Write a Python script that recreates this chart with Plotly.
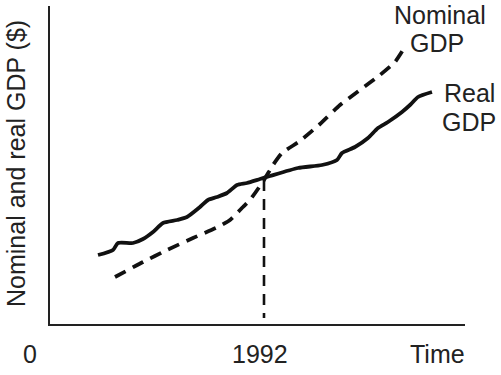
import plotly.graph_objects as go

# Real GDP (solid)
real_years = [1975.4, 1976.9, 1977.4, 1978.9, 1979.9, 1980.9, 1981.9, 1983.3, 1984.3, 1985.6,
              1986.4, 1987.3, 1988.3, 1989.3, 1990.3, 1991.6, 1992.6, 1995.4, 1997.8, 1999.3,
              1999.8, 2001.1, 2002.4, 2003.4, 2004.4, 2005.8, 2006.6, 2007.4, 2008.8]
real_vals = [69, 74, 81, 81, 85, 92, 101, 104, 107, 117,
             124, 127, 131, 139, 141, 145, 148, 156, 159, 164,
             171, 177, 186, 196, 202, 212, 219, 227, 232]

# Nominal GDP (dashed)
nom_years = [1977.1, 1979.9, 1982.3, 1984.9, 1987.4, 1988.6, 1989.9, 1990.6, 1992.0,
             1992.9, 1993.8, 1995.6, 1997.6, 1999.6, 2001.6, 2003.6, 2005.1, 2005.9]
nom_vals = [47, 62, 74, 86, 97, 104, 117, 124, 144,
            159, 171, 183, 200, 219, 234, 249, 262, 274]

# Reference year marker
base_year = [1992.0, 1992.0]
base_vals = [144, 6]

tick_labels = ["0", "1992", "Time"]
FONT = "Liberation Sans, Arial, Helvetica, sans-serif"
TXT = "#222222"

fig = go.Figure()
fig.add_trace(go.Scatter(x=base_year, y=base_vals, mode="lines",
                         line=dict(color="#111111", width=2.6, dash="11px,8px"),
                         hoverinfo="skip"))
fig.add_trace(go.Scatter(x=nom_years, y=nom_vals, mode="lines",
                         line=dict(color="#111111", width=3.8, dash="12px,8px", shape="spline", smoothing=0.5),
                         hoverinfo="skip"))
fig.add_trace(go.Scatter(x=real_years, y=real_vals, mode="lines",
                         line=dict(color="#111111", width=3.8, shape="spline", smoothing=0.6),
                         hoverinfo="skip"))

L, R, T, B = 50, 36, 6, 51
W, H = 501, 375
PW, PH = W - L - R, H - T - B

def px(xp):
    return (xp - L) / PW

def py(yp):
    return (H - B - yp) / PH

ann = []
for text, xp, yp in [(tick_labels[0], 30, 354), (tick_labels[1], 260, 354), (tick_labels[2], 437, 354),
                     ("Nominal", 440, 15), ("GDP", 437, 43), ("Real", 469, 93), ("GDP", 469, 122)]:
    ann.append(dict(text=text, x=px(xp), y=py(yp), xref="paper", yref="paper",
                    showarrow=False, xanchor="center", yanchor="middle",
                    font=dict(family=FONT, size=25, color=TXT)))
ann.append(dict(text="Nominal and real GDP ($)", x=px(16), y=py(164), xref="paper", yref="paper",
                showarrow=False, textangle=-90, xanchor="center", yanchor="middle",
                font=dict(family=FONT, size=25, color=TXT)))

fig.update_layout(
    width=W, height=H,
    margin=dict(l=L, r=R, t=T, b=B),
    paper_bgcolor="white", plot_bgcolor="white",
    showlegend=False,
    annotations=ann,
    xaxis=dict(range=[1970.6, 2012.1], showgrid=False, zeroline=False, showticklabels=False,
               ticks="", showline=True, linecolor="#222222", linewidth=2),
    yaxis=dict(range=[0, 318], showgrid=False, zeroline=False, showticklabels=False,
               ticks="", showline=True, linecolor="#222222", linewidth=2),
)

fig.write_html("out.html", config={"displayModeBar": False},
               post_script="document.body.style.margin='0';document.body.style.padding='0';")
